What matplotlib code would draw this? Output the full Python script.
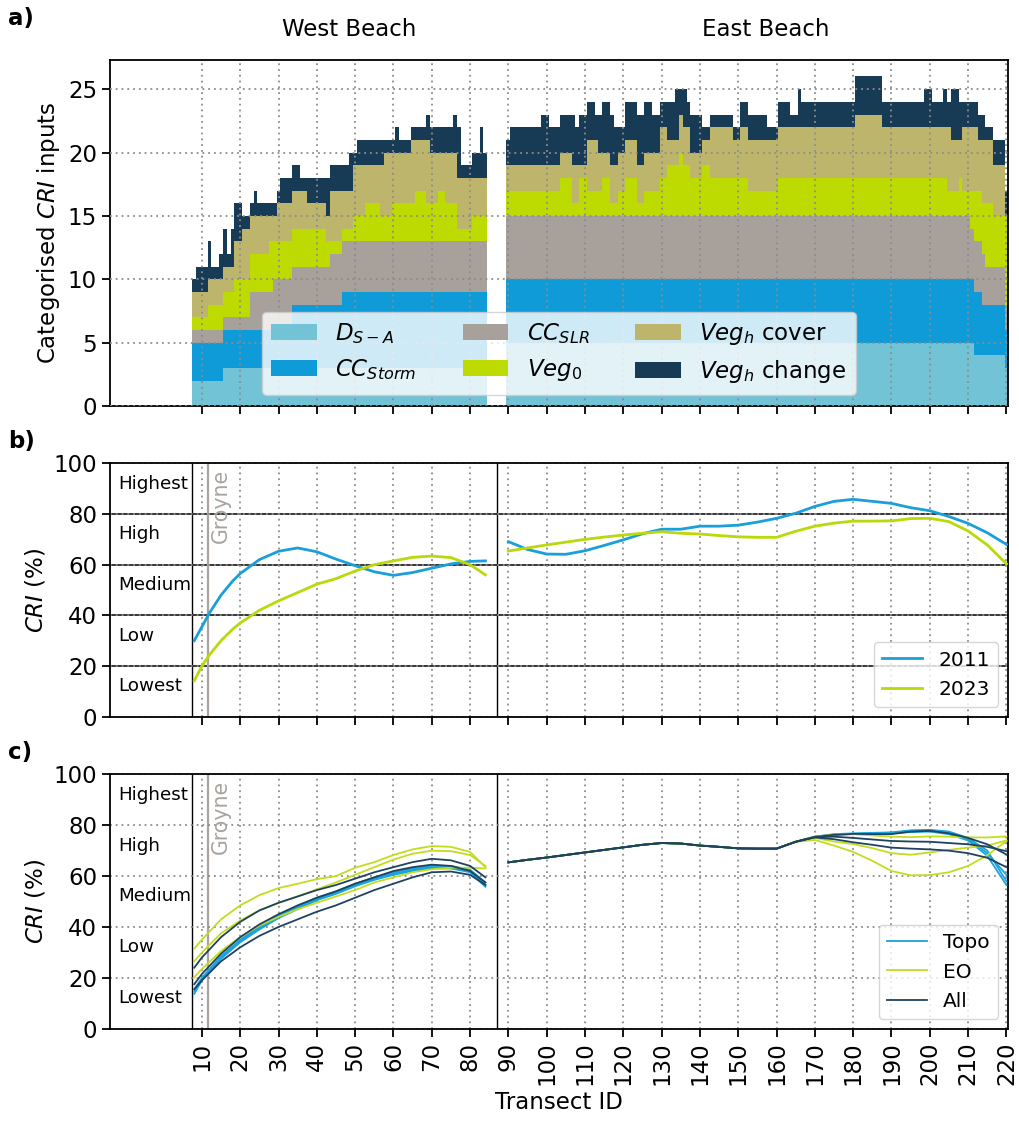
import numpy as np
import matplotlib
matplotlib.use("Agg")
import matplotlib.pyplot as plt
from matplotlib.transforms import blended_transform_factory

# ---------------- transect IDs ----------------
west_ids = np.arange(8, 85)     # 8 .. 84
east_ids = np.arange(90, 221)   # 90 .. 220

# ---------------- categorised CRI inputs (per transect) ----------------
# West Beach, transects 8..84 (rows of ten starting at 8)
west_dsa = [2, 2, 2, 2, 2, 2, 2, 2, 3, 3,
            3, 3, 3, 3, 3, 3, 3, 3, 3, 3,
            3, 3, 3, 3, 3, 3, 3, 3, 3, 3,
            3, 3, 3, 3, 3, 3, 3, 3, 3, 3,
            3, 3, 3, 3, 3, 3, 3, 3, 3, 3,
            3, 3, 3, 3, 3, 3, 3, 3, 3, 3,
            3, 3, 3, 3, 3, 3, 3, 3, 3, 3,
            3, 3, 3, 3, 3, 3, 3]
west_storm = [3, 3, 3, 3, 3, 3, 3, 3, 3, 3,
              3, 3, 3, 3, 3, 3, 3, 3, 3, 3,
              3, 3, 3, 3, 3, 3, 5, 5, 5, 5,
              5, 5, 5, 5, 5, 5, 5, 5, 5, 6,
              6, 6, 6, 6, 6, 6, 6, 6, 6, 6,
              6, 6, 6, 6, 6, 6, 6, 6, 6, 6,
              6, 6, 6, 6, 6, 6, 6, 6, 6, 6,
              6, 6, 6, 6, 6, 6, 6]
west_slr = [1, 1, 1, 1, 1, 1, 1, 1, 1, 1,
            1, 1, 1, 1, 1, 3, 3, 3, 3, 3,
            3, 4, 4, 4, 4, 4, 3, 3, 3, 3,
            3, 3, 3, 3, 3, 3, 4, 4, 4, 4,
            4, 4, 4, 4, 4, 4, 4, 4, 4, 4,
            4, 4, 4, 4, 4, 4, 4, 4, 4, 4,
            4, 4, 4, 4, 4, 4, 4, 4, 4, 4,
            4, 4, 4, 4, 4, 4, 4]
west_veg0 = [1, 1, 1, 1, 2, 2, 2, 2, 2, 2,
             2, 3, 3, 3, 3, 3, 3, 3, 3, 3,
             4, 3, 3, 3, 3, 3, 3, 3, 3, 3,
             3, 3, 3, 3, 3, 2, 1, 1, 1, 1,
             1, 1, 2, 2, 2, 3, 3, 3, 3, 2,
             2, 2, 3, 3, 3, 3, 3, 3, 4, 4,
             4, 3, 3, 3, 4, 4, 3, 3, 3, 1,
             1, 1, 1, 2, 2, 2, 2]
west_cover = [2, 2, 2, 2, 2, 2, 2, 2, 2, 2,
              2, 3, 3, 4, 4, 3, 3, 3, 3, 3,
              2, 2, 3, 3, 3, 3, 3, 3, 3, 3,
              2, 2, 2, 2, 2, 2, 4, 4, 4, 3,
              3, 3, 4, 4, 4, 3, 3, 3, 3, 4,
              5, 5, 4, 4, 4, 4, 4, 5, 4, 4,
              4, 5, 4, 4, 3, 3, 4, 4, 4, 4,
              4, 4, 4, 3, 3, 3, 3]
west_change = [1, 2, 2, 2, 3, 1, 1, 2, 3, 1,
               3, 3, 3, 1, 1, 1, 2, 1, 1, 1,
               1, 1, 1, 2, 2, 2, 2, 2, 1, 1,
               2, 2, 2, 2, 2, 3, 2, 2, 2, 2,
               2, 3, 1, 2, 2, 2, 2, 2, 2, 2,
               1, 1, 1, 2, 1, 1, 1, 1, 1, 1,
               1, 2, 2, 2, 2, 2, 2, 2, 3, 4,
               1, 1, 1, 2, 2, 4, 2]

# East Beach, transects 90..220 (rows of ten starting at 90)
east_dsa = [5] * 10 + [5] * 10 + [5] * 10 + [5] * 10 + [5] * 10 + [5] * 10 + \
           [5] * 10 + [5] * 10 + [5] * 10 + [5] * 10 + [5] * 10 + [5] * 10 + \
           [5, 5, 4, 4, 4, 4, 4, 4, 4, 4] + [3]
east_storm = [5] * 10 + [5] * 10 + [5] * 10 + [5] * 10 + [5] * 10 + [5] * 10 + \
             [5] * 10 + [5] * 10 + [5] * 10 + [5] * 10 + [5] * 10 + [5] * 10 + \
             [5, 5, 5, 5, 4, 4, 4, 4, 4, 4] + [3]
east_slr = [5] * 10 + [5] * 10 + [5] * 10 + [5] * 10 + [5] * 10 + [5] * 10 + \
           [5] * 10 + [5] * 10 + [5] * 10 + [5] * 10 + [5] * 10 + [5] * 10 + \
           [5, 4, 4, 4, 4, 3, 3, 3, 3, 3] + [2]
east_veg0 = [2, 2, 2, 2, 2, 2, 2, 2, 2, 2,
             2, 2, 2, 2, 3, 3, 3, 1, 1, 3,
             3, 2, 2, 2, 2, 3, 3, 1, 1, 2,
             2, 3, 3, 3, 1, 1, 2, 2, 2, 2,
             3, 3, 4, 4, 4, 5, 4, 4, 3, 3,
             3, 4, 4, 3, 3, 3, 3, 3, 3, 3,
             3, 3, 3, 2, 2, 2, 2, 2, 2, 2,
             2, 3, 3, 3, 3, 3, 3, 3, 3, 3,
             3, 3, 3, 3, 3, 3, 3, 3, 3, 3,
             3, 3, 3, 3, 3, 3, 3, 3, 3, 3,
             3, 3, 3, 3, 3, 3, 3, 3, 3, 3,
             3, 3, 3, 3, 3, 2, 2, 2, 3, 2,
             2, 3, 4, 4, 4, 5, 5, 4, 4, 4,
             7]
east_cover = [2, 2, 2, 2, 2, 2, 2, 2, 2, 2,
              2, 2, 2, 2, 2, 2, 2, 3, 3, 1,
              1, 4, 4, 4, 3, 2, 2, 3, 3, 3,
              3, 3, 3, 3, 3, 3, 3, 3, 3, 3,
              4, 4, 2, 2, 2, 3, 3, 3, 2, 2,
              2, 2, 2, 4, 4, 4, 4, 4, 4, 3,
              3, 4, 4, 4, 4, 4, 4, 4, 4, 4,
              4, 4, 4, 4, 4, 4, 4, 4, 4, 4,
              4, 4, 4, 4, 4, 4, 4, 4, 4, 4,
              4, 5, 5, 5, 5, 5, 5, 5, 4, 4,
              4, 4, 4, 4, 4, 4, 4, 4, 4, 4,
              4, 4, 4, 4, 4, 5, 4, 4, 3, 5,
              5, 5, 5, 4, 5, 5, 5, 4, 4, 4,
              0]
east_change = [2, 3, 3, 3, 3, 3, 3, 3, 3, 4,
               4, 3, 3, 3, 3, 3, 3, 4, 3, 4,
               4, 3, 3, 2, 3, 4, 4, 4, 3, 2,
               2, 3, 3, 3, 4, 4, 4, 4, 3, 3,
               2, 2, 3, 3, 4, 2, 3, 2, 3, 3,
               3, 1, 1, 1, 1, 1, 1, 1, 1, 1,
               1, 2, 2, 2, 2, 2, 2, 2, 1, 1,
               1, 2, 2, 2, 1, 1, 3, 2, 2, 2,
               2, 2, 2, 2, 2, 2, 2, 2, 2, 2,
               2, 3, 3, 3, 3, 3, 3, 3, 2, 2,
               2, 2, 2, 2, 2, 2, 2, 2, 2, 3,
               3, 2, 2, 2, 3, 2, 4, 4, 3, 2,
               2, 2, 2, 2, 2, 1, 1, 2, 2, 2,
               2]

layer_labels = [r'$D_{S-A}$', r'$CC_{Storm}$', r'$CC_{SLR}$',
                r'$Veg_0$', r'$Veg_h$ cover', r'$Veg_h$ change']
layer_colors = ['#72c3d6', '#0f9bd7', '#a8a09a', '#bedb00', '#beb56d', '#173a55']

# ---------------- CRI per year ----------------
b_west_x = [8, 10, 12, 15, 18, 20, 25, 30, 35, 40, 45, 50, 55, 60, 65, 70, 75, 80, 84]
cri_2011_west = [30.0, 35.5, 41.0, 48.0, 53.5, 56.5, 62.0, 65.3, 66.6, 65.1, 62.2,
                 59.6, 57.2, 55.8, 56.9, 58.6, 60.3, 61.3, 61.5]
cri_2023_west = [14.2, 20.0, 24.5, 30.0, 34.5, 37.0, 42.0, 45.7, 49.0, 52.3, 54.5,
                 57.5, 60.0, 61.5, 62.9, 63.4, 62.8, 60.0, 56.0]
b_east_x = [90, 95, 100, 105, 110, 115, 120, 125, 130, 135, 140, 145, 150, 155,
            160, 165, 170, 175, 180, 185, 190, 195, 200, 205, 210, 215, 220]
cri_2011_east = [69.1, 66.0, 64.2, 64.1, 65.5, 67.6, 69.8, 72.2, 74.0, 74.0, 75.2,
                 75.2, 75.6, 76.8, 78.3, 80.3, 83.0, 85.0, 85.8, 85.0, 84.2, 82.5,
                 81.3, 79.0, 76.3, 72.6, 68.0]
cri_2023_east = [65.4, 66.6, 67.8, 68.9, 70.0, 70.9, 71.7, 72.4, 73.0, 72.4, 72.1,
                 71.5, 71.0, 70.8, 70.8, 73.2, 75.2, 76.4, 77.2, 77.2, 77.3, 78.2,
                 78.3, 77.0, 73.3, 67.8, 60.3]

# ---------------- CRI per input set ----------------
c_west_x = [8, 10, 15, 20, 25, 30, 35, 40, 45, 50, 55, 60, 65, 70, 75, 80, 84]
c_east_shared_x = [90, 95, 100, 105, 110, 115, 120, 125, 130, 135, 140, 145, 150,
                   155, 160, 165]
c_east_shared = [65.4, 66.4, 67.3, 68.3, 69.3, 70.3, 71.3, 72.3, 73.0, 72.8, 72.0,
                 71.5, 70.9, 70.8, 70.8, 73.5]
c_east_tail_x = [170, 175, 180, 185, 190, 195, 200, 205, 210, 215, 220]

topo_west = [
    [15.5, 20.0, 28.5, 35.0, 40.0, 44.5, 48.0, 51.5, 54.0, 57.0, 59.5, 61.5, 63.0, 64.0, 64.0, 62.5, 57.5],
    [14.5, 19.5, 28.0, 34.5, 39.5, 44.0, 47.5, 51.0, 53.5, 56.5, 59.0, 61.0, 62.5, 63.5, 63.5, 62.0, 56.5],
    [13.7, 19.0, 27.5, 34.0, 39.0, 43.5, 47.0, 50.5, 53.0, 56.0, 58.5, 60.5, 62.0, 63.0, 63.0, 61.5, 55.8],
]
topo_east_tail = [
    [75.5, 76.5, 76.8, 77.0, 77.2, 78.0, 78.2, 77.5, 75.0, 70.0, 58.0],
    [75.5, 76.3, 76.6, 76.8, 77.0, 77.6, 77.8, 77.0, 74.5, 69.0, 60.5],
    [75.5, 76.2, 76.5, 76.5, 76.8, 77.3, 77.5, 76.5, 74.0, 68.0, 56.5],
]
eo_west = [
    [31.5, 35.0, 43.0, 48.5, 52.5, 55.3, 57.0, 58.8, 60.0, 63.3, 65.5, 68.3, 70.5, 71.8, 71.5, 69.5, 63.5],
    [26.5, 30.0, 37.5, 42.5, 46.5, 49.5, 52.0, 54.8, 57.5, 60.5, 63.5, 66.5, 68.8, 70.0, 69.8, 68.3, 64.0],
    [20.2, 23.5, 30.5, 36.0, 40.5, 44.0, 47.0, 49.5, 52.0, 54.5, 57.5, 59.5, 61.5, 62.7, 63.3, 63.3, 63.0],
]
eo_east_tail = [
    [75.5, 76.3, 76.5, 76.0, 75.5, 75.3, 75.6, 75.5, 75.2, 75.2, 75.6],
    [75.0, 73.6, 72.6, 71.0, 69.0, 68.4, 69.3, 70.3, 71.2, 72.0, 74.0],
    [74.2, 72.0, 69.5, 66.0, 62.0, 60.3, 60.4, 61.5, 64.0, 68.2, 73.8],
]
all_west = [
    [24.0, 28.0, 36.0, 42.0, 46.5, 49.5, 52.0, 54.5, 56.5, 59.0, 61.5, 63.5, 65.5, 66.8, 66.2, 64.0, 59.5],
    [17.5, 21.5, 29.5, 36.0, 41.0, 45.0, 48.5, 51.5, 54.0, 57.0, 59.5, 62.0, 63.5, 64.5, 64.0, 62.0, 57.5],
    [15.5, 19.0, 26.5, 32.0, 36.5, 40.0, 43.0, 46.0, 48.5, 51.5, 54.5, 57.0, 59.5, 61.5, 61.8, 60.5, 56.5],
]
all_east_tail = [
    [75.4, 76.2, 76.6, 76.5, 76.5, 77.5, 77.8, 76.8, 75.0, 72.5, 68.5],
    [75.3, 75.5, 75.0, 74.4, 73.8, 73.6, 73.5, 73.0, 72.5, 71.5, 69.8],
    [75.2, 74.5, 73.3, 72.3, 71.2, 70.8, 70.5, 70.0, 69.0, 67.2, 63.5],
]

class_names = ['Highest', 'High', 'Medium', 'Low', 'Lowest']
class_pos = [92, 72, 52, 32, 12]

# ---------------- styling ----------------
plt.rcParams['font.family'] = ['DejaVu Sans']
plt.rcParams['font.size'] = 16.5
plt.rcParams['axes.linewidth'] = 1.3

GRID = dict(color='#8c8c8c', linestyle=(0, (1, 2.2)), linewidth=1.3)
XLIM = (-14.0, 220.4)
BEACH_START, BEACH_SPLIT, GROYNE = 7.5, 87.0, 11.6
GROYNE_COLOR = '#aaa39e'

fig = plt.figure(figsize=(10.2, 11.26), dpi=100)
ax_a = fig.add_axes([0.1078, 0.6394, 0.8804, 0.3073])
ax_b = fig.add_axes([0.1078, 0.3635, 0.8804, 0.2250])
ax_c = fig.add_axes([0.1078, 0.0864, 0.8804, 0.2259])

xticks = np.arange(10, 230, 10)
for ax in (ax_a, ax_b, ax_c):
    ax.set_xlim(*XLIM)
    ax.set_xticks(xticks)
    ax.tick_params(direction='out', length=5.8, width=1.3, labelsize=16.5)
    ax.grid(True, **GRID)

# ---------------- panel a: stacked categorised inputs ----------------
west_layers = [west_dsa, west_storm, west_slr, west_veg0, west_cover, west_change]
east_layers = [east_dsa, east_storm, east_slr, east_veg0, east_cover, east_change]
for ids, layers in ((west_ids, west_layers), (east_ids, east_layers)):
    bottom = np.zeros(len(ids))
    for vals, col, lab in zip(layers, layer_colors, layer_labels):
        vals = np.asarray(vals, dtype=float)
        ax_a.bar(ids, vals, bottom=bottom, width=1.0, color=col,
                 edgecolor='none', linewidth=0, label=lab if ids is west_ids else None,
                 zorder=1)
        bottom += vals
ax_a.set_axisbelow(False)
ax_a.set_ylim(0, 27.3)
ax_a.set_yticks([0, 5, 10, 15, 20, 25])
ax_a.set_ylabel(r'Categorised $\it{CRI}$ inputs')
ax_a.tick_params(labelbottom=False)
leg_a = ax_a.legend(ncol=3, loc='lower center', fontsize=16.5, framealpha=0.8,
                    handlelength=2.0, columnspacing=2.0)
leg_a.set_zorder(5)

tr = blended_transform_factory(ax_a.transData, ax_a.transAxes)
ax_a.text(48.4, 1.087, 'West Beach', transform=tr, ha='center', va='center')
ax_a.text(157.3, 1.087, 'East Beach', transform=tr, ha='center', va='center')


def decorate_cri(ax, solid_bands):
    ax.set_ylim(0, 100)
    ax.set_yticks([0, 20, 40, 60, 80, 100])
    ax.set_ylabel(r'$\it{CRI}$ (%)')
    if solid_bands:
        for yv in (20, 40, 60, 80):
            ax.axhline(yv, color='black', lw=1.1, zorder=1.5)
    ax.axvline(BEACH_START, color='black', lw=1.0, zorder=1.5)
    ax.axvline(BEACH_SPLIT, color='black', lw=1.0, zorder=1.5)
    ax.axvline(GROYNE, color=GROYNE_COLOR, lw=1.6, zorder=1.5)
    ax.text(GROYNE + 0.8, 98, 'Groyne', rotation=90, color=GROYNE_COLOR,
            fontsize=14.8, ha='left', va='top')
    for name, yv in zip(class_names, class_pos):
        ax.text(-11.9, yv, name, fontsize=13.2, ha='left', va='center')


# ---------------- panel b: CRI 2011 vs 2023 ----------------
decorate_cri(ax_b, True)
c2011, c2023 = '#1a9fdb', '#bad80a'
ax_b.plot(b_west_x, cri_2011_west, color=c2011, lw=2.0, label='2011', zorder=3)
ax_b.plot(b_east_x, cri_2011_east, color=c2011, lw=2.0, zorder=3)
ax_b.plot(b_west_x, cri_2023_west, color=c2023, lw=2.0, label='2023', zorder=3)
ax_b.plot(b_east_x, cri_2023_east, color=c2023, lw=2.0, zorder=3)
ax_b.tick_params(labelbottom=False)
ax_b.legend(loc='lower right', fontsize=14.5, framealpha=0.8)

# ---------------- panel c: CRI by input set ----------------
decorate_cri(ax_c, False)
groups = [('Topo', '#1aa3dc', topo_west, topo_east_tail),
          ('EO', '#c3dc1e', eo_west, eo_east_tail),
          ('All', '#1e4360', all_west, all_east_tail)]
east_x_full = c_east_shared_x + c_east_tail_x
for name, col, wlines, etails in groups:
    for k, (wv, ev) in enumerate(zip(wlines, etails)):
        ax_c.plot(c_west_x, wv, color=col, lw=1.3, zorder=3,
                  label=name if k == 0 else None)
        ax_c.plot(east_x_full, c_east_shared + ev, color=col, lw=1.3, zorder=3)
ax_c.set_xticklabels([str(v) for v in xticks], rotation=90)
ax_c.set_xlabel('Transect ID')
ax_c.legend(loc='lower right', fontsize=14.5, framealpha=0.8)

# ---------------- panel letters ----------------
fig.text(0.008, 0.984, 'a)', fontweight='bold', va='center', ha='left')
fig.text(0.008, 0.6075, 'b)', fontweight='bold', va='center', ha='left')
fig.text(0.008, 0.332, 'c)', fontweight='bold', va='center', ha='left')

fig.savefig('out.png', dpi=100)
